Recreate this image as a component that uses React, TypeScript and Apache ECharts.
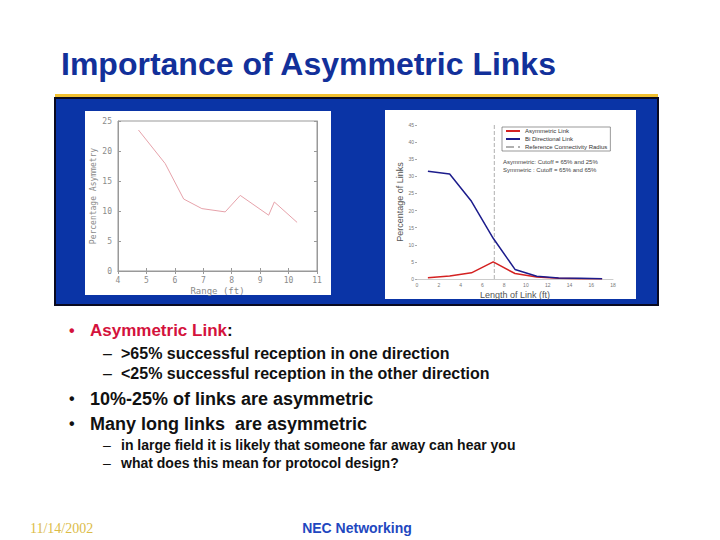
import React, { useEffect, useRef } from "react";
import * as echarts from "echarts";

// Left chart: Percentage Asymmetry vs Range (ft)
const rangeFt = [4.72, 5.66, 6.31, 6.95, 7.77, 8.3, 9.3, 9.5, 10.3];
const asymmetryPct = [23.5, 17.9, 12.0, 10.4, 9.85, 12.6, 9.3, 11.5, 8.1];

// Right chart: Percentage of Links vs Length of Link (ft)
const linkLength = [1, 3, 5, 7, 9, 11, 13, 15, 17];
const asymmetricLinkPct = [0.4, 0.9, 1.8, 5.0, 1.6, 0.6, 0.2, 0.1, 0.1];
const biDirectionalPct = [31.5, 30.7, 22.7, 11.9, 2.8, 0.8, 0.3, 0.2, 0.1];
const referenceRadius = 7.1;
const referenceSpan = [0, 45];

const seriesNames = ["Asymmetric Link", "Bi Directional Link", "Reference Connectivity Radius"];
const annotationLines = ["Asymmetric: Cutoff = 65% and 25%", "Symmetric : Cutoff = 65% and 65%"];

const titleText = "Importance of Asymmetric Links";
const bulletLines = [
  { level: 1, parts: [["Asymmetric Link", "#d4123c"], [":", "#111"]] },
  { level: 2, parts: [[">65% successful reception in one direction", "#111"]] },
  { level: 2, parts: [["<25% successful reception in the other direction", "#111"]] },
  { level: 1, parts: [["10%-25% of links are asymmetric", "#111"]] },
  { level: 1, parts: [["Many long links  are asymmetric", "#111"]] },
  { level: 3, parts: [["in large field it is likely that someone far away can hear you", "#111"]] },
  { level: 3, parts: [["what does this mean for protocol design?", "#111"]] },
];
const footerDate = "11/14/2002";
const footerCenter = "NEC Networking";

export default function App() {
  const ref = useRef<HTMLDivElement>(null);
  useEffect(() => {
    if (!ref.current) return;
    const chart = echarts.init(ref.current, null, { renderer: "svg" });

    const lineY = [330.5, 353.5, 373.5, 398.5, 423.5, 444.5, 462.5];
    const sizes = [17, 16, 16, 18, 18, 14, 14];
    const textGraphics: any[] = [];
    bulletLines.forEach((ln, i) => {
      const y = lineY[i];
      const fs = sizes[i];
      if (ln.level === 1) {
        textGraphics.push({
          type: "text", x: 69, y, z: 20,
          style: { text: "•", fontSize: 16, fontWeight: "bold", fontFamily: "Liberation Sans, Arial", fill: i === 0 ? "#d4123c" : "#111", textVerticalAlign: "middle" },
        });
      } else {
        textGraphics.push({
          type: "text", x: 103, y, z: 20,
          style: { text: "–", fontSize: fs, fontFamily: "Liberation Sans, Arial", fill: "#111", textVerticalAlign: "middle" },
        });
      }
      const x0 = ln.level === 1 ? 90 : 121;
      if (ln.parts.length === 2) {
        textGraphics.push({
          type: "text", x: x0, y, z: 20,
          style: {
            text: "{a|" + ln.parts[0][0] + "}{b|" + ln.parts[1][0] + "}",
            textVerticalAlign: "middle",
            rich: {
              a: { fontSize: fs, fontWeight: "bold", fontFamily: "Liberation Sans, Arial", fill: ln.parts[0][1], color: ln.parts[0][1] },
              b: { fontSize: fs, fontWeight: "bold", fontFamily: "Liberation Sans, Arial", fill: ln.parts[1][1], color: ln.parts[1][1] },
            },
          },
        });
      } else {
        textGraphics.push({
          type: "text", x: x0, y, z: 20,
          style: { text: ln.parts[0][0], fontSize: fs, fontWeight: "bold", fontFamily: "Liberation Sans, Arial", fill: ln.parts[0][1], textVerticalAlign: "middle" },
        });
      }
    });

    const axisFont = { fontSize: 8, color: "#8a8a8a", fontFamily: "DejaVu Sans Mono, monospace" };
    const tinyFont = { fontSize: 5, color: "#777", fontFamily: "Liberation Sans, Arial" };

    chart.setOption({
      animation: false,
      backgroundColor: "#ffffff",
      graphic: [
        { type: "text", x: 61, y: 64, z: 20, style: { text: titleText, fontSize: 32, fontWeight: "bold", fontFamily: "Liberation Sans, Arial", fill: "#12309a", textVerticalAlign: "middle" } },
        { type: "rect", z: 1, shape: { x: 55, y: 94, width: 603, height: 4 }, style: { fill: "#f0c030" } },
        { type: "rect", z: 1, shape: { x: 55, y: 98, width: 603, height: 207 }, style: { fill: "#0a34a6", stroke: "#0a0a20", lineWidth: 2 } },
        { type: "rect", z: 2, shape: { x: 85, y: 111, width: 246, height: 184 }, style: { fill: "#ffffff" } },
        { type: "rect", z: 2, shape: { x: 385, y: 110, width: 251, height: 189 }, style: { fill: "#ffffff" } },
        { type: "text", x: 503, y: 162, z: 20, style: { text: annotationLines[0], fontSize: 6, fontFamily: "Liberation Sans, Arial", fill: "#444", textVerticalAlign: "middle" } },
        { type: "text", x: 503, y: 170, z: 20, style: { text: annotationLines[1], fontSize: 6, fontFamily: "Liberation Sans, Arial", fill: "#444", textVerticalAlign: "middle" } },
        ...textGraphics,
        { type: "text", x: 30, y: 528, z: 20, style: { text: footerDate, fontSize: 14, fontFamily: "Liberation Serif, Times New Roman, serif", fill: "#dcbc48", textVerticalAlign: "middle" } },
        { type: "text", x: 357, y: 528, z: 20, style: { text: footerCenter, fontSize: 14, fontWeight: "bold", fontFamily: "Liberation Sans, Arial", fill: "#1f48c0", textAlign: "center", textVerticalAlign: "middle" } },
      ],
      legend: {
        data: seriesNames,
        left: 502,
        top: 127,
        orient: "vertical",
        itemWidth: 14,
        itemHeight: 6,
        itemGap: 2,
        padding: [1, 3, 1, 3],
        borderColor: "#555",
        borderWidth: 0.6,
        itemStyle: { opacity: 0 },
        textStyle: { fontSize: 6, color: "#333", fontFamily: "Liberation Sans, Arial" },
        z: 20,
      },
      grid: [
        { left: 118, right: 403, top: 121, bottom: 269, show: true, borderColor: "#999", borderWidth: 1, backgroundColor: "#fff", z: 5 },
        { left: 417, right: 107, top: 125, bottom: 261, z: 5 },
      ],
      xAxis: [
        {
          type: "value", gridIndex: 0, min: 4, max: 11, interval: 1, z: 10,
          axisLine: { lineStyle: { color: "#999" } },
          axisTick: { inside: true, length: 3, lineStyle: { color: "#999" } },
          splitLine: { show: false },
          axisLabel: { ...axisFont, margin: 5 },
          name: "Range (ft)", nameLocation: "middle", nameGap: 15,
          nameTextStyle: { ...axisFont, fontSize: 9 },
        },
        {
          type: "value", gridIndex: 0, position: "top", min: 4, max: 11, interval: 1, z: 10,
          axisLine: { lineStyle: { color: "#999" } },
          axisTick: { inside: true, length: 3, lineStyle: { color: "#999" } },
          splitLine: { show: false }, axisLabel: { show: false },
        },
        {
          type: "value", gridIndex: 1, min: 0, max: 18, interval: 2, z: 10,
          axisLine: { lineStyle: { color: "#aaa", width: 0.6 } },
          axisTick: { show: false },
          splitLine: { show: false },
          axisLabel: { ...tinyFont, margin: 3 },
          name: "Length of Link (ft)", nameLocation: "middle", nameGap: 11,
          nameTextStyle: { fontSize: 9, color: "#555", fontFamily: "Liberation Sans, Arial" },
        },
      ],
      yAxis: [
        {
          type: "value", gridIndex: 0, min: 0, max: 25, interval: 5, z: 10,
          axisLine: { lineStyle: { color: "#999" } },
          axisTick: { inside: true, length: 3, lineStyle: { color: "#999" } },
          splitLine: { show: false },
          axisLabel: { ...axisFont, margin: 6 },
          name: "Percentage Asymmetry", nameLocation: "middle", nameGap: 21,
          nameTextStyle: { ...axisFont, fontSize: 8 },
        },
        {
          type: "value", gridIndex: 0, position: "right", min: 0, max: 25, interval: 5, z: 10,
          axisLine: { lineStyle: { color: "#999" } },
          axisTick: { inside: true, length: 3, lineStyle: { color: "#999" } },
          splitLine: { show: false }, axisLabel: { show: false },
        },
        {
          type: "value", gridIndex: 1, min: 0, max: 45, interval: 5, z: 10,
          axisLine: { show: false },
          axisTick: { show: true, length: 2, lineStyle: { color: "#aaa" } },
          splitLine: { show: false },
          axisLabel: { ...tinyFont, margin: 3 },
          name: "Percentage of Links", nameLocation: "middle", nameGap: 7,
          nameTextStyle: { fontSize: 9, color: "#555", fontFamily: "Liberation Sans, Arial" },
        },
      ],
      series: [
        {
          type: "line", xAxisIndex: 0, yAxisIndex: 0, symbol: "none", z: 11,
          lineStyle: { color: "#e6a2aa", width: 1 },
          data: rangeFt.map((x, i) => [x, asymmetryPct[i]]),
        },
        {
          name: seriesNames[0], type: "line", xAxisIndex: 2, yAxisIndex: 2, symbol: "none", z: 11,
          itemStyle: { color: "#d42222" }, lineStyle: { color: "#d42222", width: 1.5 },
          data: linkLength.map((x, i) => [x, asymmetricLinkPct[i]]),
        },
        {
          name: seriesNames[1], type: "line", xAxisIndex: 2, yAxisIndex: 2, symbol: "none", z: 11,
          itemStyle: { color: "#1c1c8c" }, lineStyle: { color: "#1c1c8c", width: 1.5 },
          data: linkLength.map((x, i) => [x, biDirectionalPct[i]]),
        },
        {
          name: seriesNames[2], type: "line", xAxisIndex: 2, yAxisIndex: 2, symbol: "none", z: 10,
          itemStyle: { color: "#b0b0b0" }, lineStyle: { color: "#b0b0b0", width: 1, type: "dashed" },
          data: referenceSpan.map((y) => [referenceRadius, y]),
        },
      ],
    });
    return () => chart.dispose();
  }, []);
  return <div ref={ref} style={{ position: "absolute", left: 0, top: 0, width: 720, height: 540 }} />;
}
